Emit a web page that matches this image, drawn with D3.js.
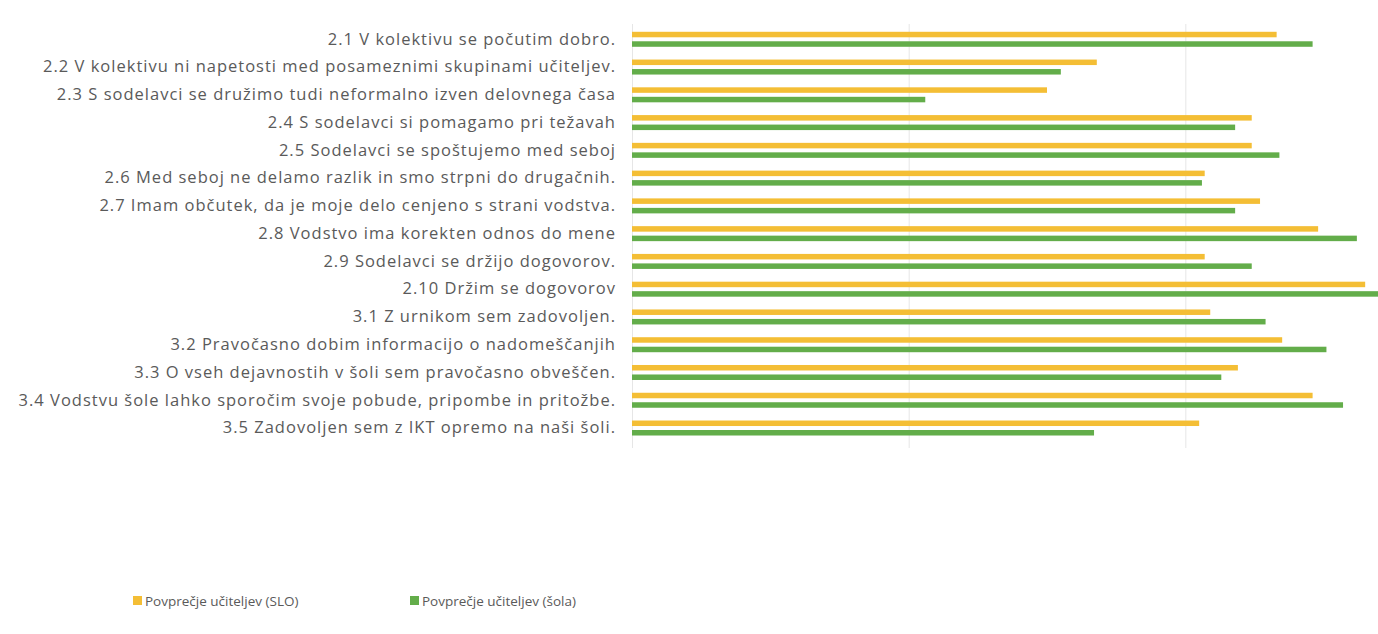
<!DOCTYPE html>
<html>
<head>
<meta charset="utf-8">
<script src="https://cdn.jsdelivr.net/npm/d3@7"></script>
<style>
  html, body { margin: 0; padding: 0; background: #ffffff; }
  svg { display: block; }
  text { font-family: "Open Sans", "Liberation Sans", sans-serif; }
</style>
</head>
<body>
<svg id="chart" width="1378" height="634"></svg>
<script>
const categories = [
  "2.1 V kolektivu se počutim dobro.",
  "2.2 V kolektivu ni napetosti med posameznimi skupinami učiteljev.",
  "2.3 S sodelavci se družimo tudi neformalno izven delovnega časa",
  "2.4 S sodelavci si pomagamo pri težavah",
  "2.5 Sodelavci se spoštujemo med seboj",
  "2.6 Med seboj ne delamo razlik in smo strpni do drugačnih.",
  "2.7 Imam občutek, da je moje delo cenjeno s strani vodstva.",
  "2.8 Vodstvo ima korekten odnos do mene",
  "2.9 Sodelavci se držijo dogovorov.",
  "2.10 Držim se dogovorov",
  "3.1 Z urnikom sem zadovoljen.",
  "3.2 Pravočasno dobim informacijo o nadomeščanjih",
  "3.3 O vseh dejavnostih v šoli sem pravočasno obveščen.",
  "3.4 Vodstvu šole lahko sporočim svoje pobude, pripombe in pritožbe.",
  "3.5 Zadovoljen sem z IKT opremo na naši šoli."
];
const seriesNames = ["Povprečje učiteljev (SLO)", "Povprečje učiteljev (šola)"];
const valuesSLO  = [4.33, 3.68, 3.50, 4.24, 4.24, 4.07, 4.27, 4.48, 4.07, 4.65, 4.09, 4.35, 4.19, 4.46, 4.05];
const valuesSola = [4.46, 3.55, 3.06, 4.18, 4.34, 4.06, 4.18, 4.62, 4.24, 4.73, 4.29, 4.51, 4.13, 4.57, 3.67];
const axisTicks = [2, 3, 4, 5];

const colors = ["#f4be35", "#63ad4a"];

const svg = d3.select("#chart");

const x = d3.scaleLinear().domain([2, 5]).range([632, 1462]);
const y = d3.scaleBand().domain(categories).range([25.4, 441.9]).paddingInner(0.46).paddingOuter(0.23);
const ySub = d3.scaleBand().domain(seriesNames).range([0, y.bandwidth()]).paddingInner(0.42);

// gridlines
const grid = svg.append("g")
  .attr("transform", "translate(0,448)")
  .call(d3.axisBottom(x).tickValues(axisTicks).tickSize(-424).tickFormat(""));
grid.select(".domain").remove();
grid.selectAll(".tick line").attr("stroke", "#e6e6e6").attr("stroke-width", 1);

const rows = categories.map((c, i) => ({ cat: c, vals: [valuesSLO[i], valuesSola[i]] }));

const g = svg.append("g");
const groups = g.selectAll("g.row").data(rows).join("g")
  .attr("class", "row")
  .attr("transform", d => `translate(0,${y(d.cat)})`);

groups.selectAll("rect").data(d => d.vals.map((v, k) => ({ v, k })))
  .join("rect")
  .attr("x", x(2))
  .attr("y", d => ySub(seriesNames[d.k]))
  .attr("width", d => x(d.v) - x(2))
  .attr("height", ySub.bandwidth())
  .attr("fill", d => colors[d.k]);

// category labels
const yAxis = svg.append("g")
  .attr("transform", "translate(622,0)")
  .call(d3.axisLeft(y).tickSize(0).tickPadding(6));
yAxis.select(".domain").remove();
yAxis.selectAll("text")
  .attr("fill", "#5a5a5a")
  .style("font-size", "16.5px")
  .style("letter-spacing", "1px")
  .style("font-family", "'Open Sans', sans-serif");

// legend
const legend = svg.append("g").attr("transform", "translate(0,601)");
const legendX = [133, 410];
seriesNames.forEach((name, k) => {
  const lg = legend.append("g").attr("transform", `translate(${legendX[k]},0)`);
  lg.append("rect").attr("x", 0).attr("y", -5).attr("width", 9).attr("height", 9).attr("fill", colors[k]);
  lg.append("text").attr("x", 12).attr("y", 0).attr("dy", "0.35em")
    .attr("fill", "#5a5a5a").style("font-size", "13.5px").text(name);
});
</script>
</body>
</html>
